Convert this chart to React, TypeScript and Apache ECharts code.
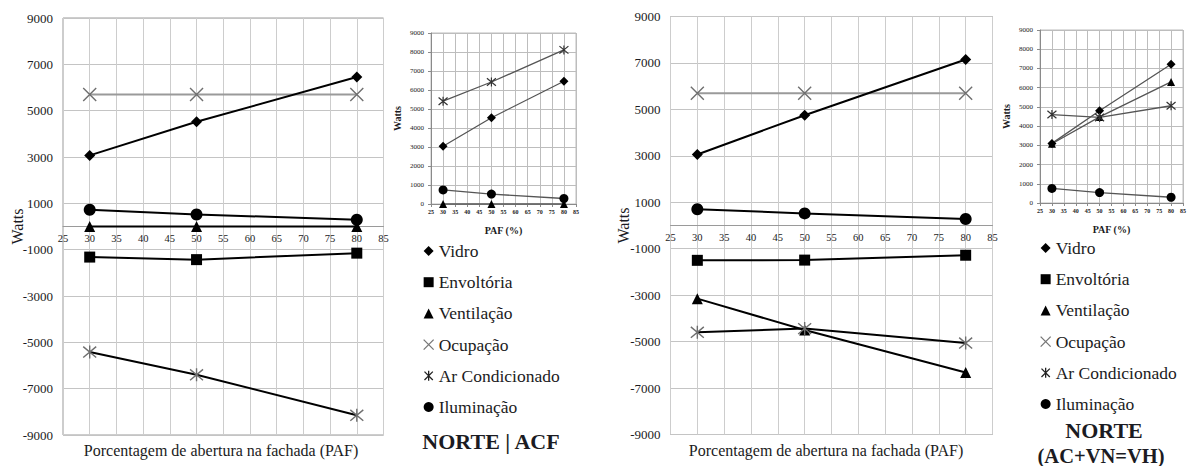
import React, { useEffect, useRef } from "react";
import * as echarts from "echarts";

// ---------- data ----------
const paf = [30, 50, 80];

// NORTE | ACF — main chart
const vidroACF = [3070, 4520, 6450];
const envoltoriaACF = [-1320, -1430, -1150];
const ventilacaoACF = [0, 0, 0];
const ocupacaoACF = [5700, 5700, 5700];
const arCondicionadoACF = [-5420, -6400, -8150];
const iluminacaoACF = [720, 520, 290];

// NORTE | ACF — inset
const insetVidroACF = [3040, 4540, 6460];
const insetVentilacaoACF = [0, 0, 0];
const insetArCondicionadoACF = [5410, 6420, 8110];
const insetIluminacaoACF = [740, 520, 290];

// NORTE (AC+VN=VH) — main chart
const vidroVH = [3060, 4750, 7150];
const envoltoriaVH = [-1500, -1490, -1280];
const ventilacaoVH = [-3150, -4500, -6330];
const ocupacaoVH = [5700, 5700, 5700];
const arCondicionadoVH = [-4600, -4440, -5060];
const iluminacaoVH = [700, 520, 280];

// NORTE (AC+VN=VH) — inset
const insetVidroVH = [3100, 4800, 7220];
const insetVentilacaoVH = [3080, 4480, 6300];
const insetArCondicionadoVH = [4600, 4450, 5060];
const insetIluminacaoVH = [760, 540, 300];

const legendNames = ["Vidro", "Envoltória", "Ventilação", "Ocupação", "Ar Condicionado", "Iluminação"];

// ---------- styling ----------
const FONT = "Liberation Serif";
const TXT = "#1b1b22";
const X_PATH = "path://M0,0L10,10M10,0L0,10";
const AST_PATH = "path://M0,1L10,11M10,1L0,11M5,0L5,12";
const plain = (v: number) => String(v);

const symbolOf: Record<string, string> = {
  "Vidro": "diamond",
  "Envoltória": "rect",
  "Ventilação": "triangle",
  "Ocupação": X_PATH,
  "Ar Condicionado": AST_PATH,
  "Iluminação": "circle",
};

function mainSeries(name: string, ys: number[], idx: number) {
  const isOcc = name === "Ocupação";
  const isAst = name === "Ar Condicionado";
  const sizes: Record<string, number> = {
    "Vidro": 11, "Envoltória": 11, "Ventilação": 11, "Ocupação": 13, "Ar Condicionado": 13, "Iluminação": 12,
  };
  return {
    type: "line",
    name,
    xAxisIndex: idx,
    yAxisIndex: idx,
    data: paf.map((x, i) => [x, ys[i]]),
    symbol: symbolOf[name],
    symbolSize: sizes[name],
    lineStyle: { color: isOcc ? "#9a9a9a" : "#000", width: 2 },
    itemStyle: isOcc || isAst
      ? { color: "rgba(0,0,0,0)", borderColor: "#6f6f6f", borderWidth: 1.4 }
      : { color: "#000" },
    z: isOcc ? 2 : 3,
  };
}

function insetSeries(name: string, ys: number[], idx: number) {
  const isAst = name === "Ar Condicionado";
  const sizes: Record<string, number> = {
    "Vidro": 9, "Ventilação": 8, "Ar Condicionado": 9, "Iluminação": 9,
  };
  return {
    type: "line",
    name,
    xAxisIndex: idx,
    yAxisIndex: idx,
    data: paf.map((x, i) => [x, ys[i]]),
    symbol: symbolOf[name],
    symbolSize: sizes[name],
    lineStyle: { color: "#555", width: 1.3 },
    itemStyle: isAst
      ? { color: "rgba(0,0,0,0)", borderColor: "#333", borderWidth: 1.2 }
      : { color: "#000" },
  };
}

function mainX(gridIndex: number, offset: number) {
  return {
    type: "value", gridIndex, min: 25, max: 85, interval: 5,
    position: "bottom", offset,
    axisLine: { onZero: false, lineStyle: { color: "#9a9a9a", width: 1 } },
    axisTick: { show: false },
    axisLabel: { fontFamily: FONT, fontSize: 10.5, color: TXT, margin: 6, formatter: plain },
    splitLine: { show: true, lineStyle: { color: "#cdcdcd", width: 1 } },
  };
}
function mainY(gridIndex: number, gap: number) {
  return {
    type: "value", gridIndex, min: -9000, max: 9000, interval: 2000,
    axisLine: { show: false },
    axisTick: { show: false },
    axisLabel: { fontFamily: FONT, fontSize: 13, color: TXT, margin: 10, formatter: plain },
    splitLine: { show: true, lineStyle: { color: "#c4c4c4", width: 1 } },
    name: "Watts", nameLocation: "middle", nameGap: gap, nameMoveOverlap: false,
    nameTextStyle: { fontFamily: FONT, fontSize: 16, color: TXT },
  };
}
function insetX(gridIndex: number) {
  return {
    type: "value", gridIndex, min: 25, max: 85, interval: 5,
    axisLine: { onZero: false, lineStyle: { color: "#8a8a8a" } },
    axisTick: { show: true, length: 3, lineStyle: { color: "#8a8a8a" } },
    axisLabel: { fontFamily: FONT, fontSize: 6, color: TXT, margin: 5, fontWeight: "bold", formatter: plain },
    splitLine: { show: true, lineStyle: { color: "#bdbdbd" } },
    name: "PAF (%)", nameLocation: "middle", nameGap: 21,
    nameTextStyle: { fontFamily: FONT, fontSize: 10, fontWeight: "bold", color: TXT },
  };
}
function insetY(gridIndex: number) {
  return {
    type: "value", gridIndex, min: 0, max: 9000, interval: 1000,
    axisLine: { show: true, lineStyle: { color: "#8a8a8a" } },
    axisTick: { show: true, length: 3, lineStyle: { color: "#8a8a8a" } },
    axisLabel: { fontFamily: FONT, fontSize: 7, color: TXT, margin: 7, formatter: plain },
    splitLine: { show: true, lineStyle: { color: "#bdbdbd" } },
    name: "Watts", nameLocation: "middle", nameGap: 29,
    nameTextStyle: { fontFamily: FONT, fontSize: 10, fontWeight: "bold", color: TXT },
  };
}

function legendData() {
  return legendNames.map((n) => {
    const hollow = n === "Ocupação" || n === "Ar Condicionado";
    return {
      name: n,
      icon: symbolOf[n],
      itemStyle: hollow
        ? { color: "rgba(0,0,0,0)", borderColor: n === "Ocupação" ? "#777" : "#222", borderWidth: 1.3 }
        : { color: "#000", borderWidth: 0 },
    };
  });
}

function legend(left: number, top: number) {
  return {
    orient: "vertical", left, top, padding: 0,
    itemWidth: 10, itemHeight: 10, itemGap: 13.2,
    selectedMode: false,
    textStyle: { fontFamily: FONT, fontSize: 17.5, color: TXT },
    data: legendData(),
  };
}

function txt(text: string, x: number, y: number, size: number, bold: boolean) {
  return {
    type: "text", x, y,
    style: {
      text, fill: TXT,
      font: `${bold ? "bold " : ""}${size}px 'Liberation Serif', 'Times New Roman', serif`,
      textAlign: "center", textVerticalAlign: "middle",
      align: "center", verticalAlign: "middle",
    },
  };
}

const option: any = {
  animation: false,
  backgroundColor: "#fff",
  textStyle: { fontFamily: FONT },
  grid: [
    { left: 63, top: 18, width: 320.5, height: 417, show: true, borderColor: "#9a9a9a", borderWidth: 1 },
    { left: 431, top: 33, width: 145, height: 171, show: true, borderColor: "#bdbdbd", borderWidth: 1 },
    { left: 670.5, top: 16.5, width: 322, height: 418, show: true, borderColor: "#9a9a9a", borderWidth: 1 },
    { left: 1040, top: 30, width: 146.5, height: 173, show: true, borderColor: "#bdbdbd", borderWidth: 1 },
  ],
  xAxis: [mainX(0, -208.5), insetX(1), mainX(2, -209), insetX(3)],
  yAxis: [mainY(0, 38), insetY(1), mainY(2, 39.5), insetY(3)],
  legend: [legend(423, 242), legend(1040, 239)],
  series: [
    mainSeries("Ocupação", ocupacaoACF, 0),
    mainSeries("Vidro", vidroACF, 0),
    mainSeries("Envoltória", envoltoriaACF, 0),
    mainSeries("Ventilação", ventilacaoACF, 0),
    mainSeries("Ar Condicionado", arCondicionadoACF, 0),
    mainSeries("Iluminação", iluminacaoACF, 0),

    insetSeries("Vidro", insetVidroACF, 1),
    insetSeries("Ventilação", insetVentilacaoACF, 1),
    insetSeries("Ar Condicionado", insetArCondicionadoACF, 1),
    insetSeries("Iluminação", insetIluminacaoACF, 1),

    mainSeries("Ocupação", ocupacaoVH, 2),
    mainSeries("Vidro", vidroVH, 2),
    mainSeries("Envoltória", envoltoriaVH, 2),
    mainSeries("Ventilação", ventilacaoVH, 2),
    mainSeries("Ar Condicionado", arCondicionadoVH, 2),
    mainSeries("Iluminação", iluminacaoVH, 2),

    insetSeries("Vidro", insetVidroVH, 3),
    insetSeries("Ventilação", insetVentilacaoVH, 3),
    insetSeries("Ar Condicionado", insetArCondicionadoVH, 3),
    insetSeries("Iluminação", insetIluminacaoVH, 3),
  ],
  graphic: [
    txt("Porcentagem de abertura na fachada (PAF)", 221, 450, 16, false),
    txt("Porcentagem de abertura na fachada (PAF)", 826, 450, 16, false),
    txt("NORTE | ACF", 491, 441, 22, true),
    txt("NORTE", 1104, 430, 22, true),
    txt("(AC+VN=VH)", 1101, 455.5, 20.5, true),
  ],
};

export default function App() {
  const ref = useRef<HTMLDivElement>(null);
  useEffect(() => {
    const chart = echarts.init(ref.current!, null, { renderer: "svg" });
    chart.setOption(option);
    return () => chart.dispose();
  }, []);
  return (
    <div
      ref={ref}
      style={{ position: "absolute", left: 0, top: 0, width: 1189, height: 466, background: "#fff" }}
    />
  );
}
